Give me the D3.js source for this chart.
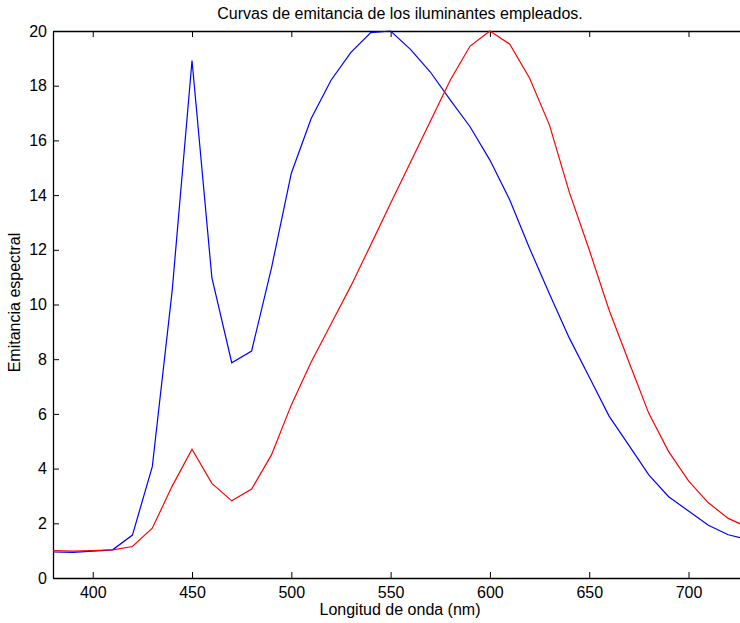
<!DOCTYPE html>
<html><head><meta charset="utf-8">
<script src="https://cdn.jsdelivr.net/npm/d3@7"></script>
<style>body{margin:0;background:#fff}svg{display:block}</style>
</head><body>
<svg id="c" width="740" height="623"></svg>
<script>
const wavelengths = [380,390,400,410,420,430,440,450,460,470,480,490,500,510,520,530,540,550,560,570,580,590,600,610,620,630,640,650,660,670,680,690,700,710,720,730];
const blueSeries = [0.95,0.94,0.98,1.03,1.57,4.07,10.5,18.92,10.98,7.87,8.3,11.33,14.8,16.8,18.2,19.22,19.94,20.0,19.33,18.5,17.48,16.5,15.28,13.82,12.05,10.38,8.77,7.35,5.92,4.85,3.77,2.97,2.45,1.93,1.58,1.4];
const redSeries = [1.0,0.98,1.0,1.03,1.15,1.82,3.36,4.71,3.46,2.82,3.25,4.5,6.33,7.9,9.29,10.68,12.18,13.7,15.2,16.7,18.2,19.45,20.0,19.52,18.27,16.56,14.1,12.0,9.8,7.9,6.02,4.62,3.55,2.75,2.18,1.85];
const xTicks = [400,450,500,550,600,650,700];
const yTicks = [0,2,4,6,8,10,12,14,16,18,20];
const titleText = "Curvas de emitancia de los iluminantes empleados.";
const xLabel = "Longitud de onda (nm)";
const yLabel = "Emitancia espectral";

const svg = d3.select("#c");
const L = 53, T = 31, B = 578, R = 53 + 350*1.986;
const x = d3.scaleLinear().domain([380,730]).range([L,R]);
const y = d3.scaleLinear().domain([0,20]).range([B,T]);
const font = "'Liberation Sans', Arial, Helvetica, sans-serif";

const g = svg.append("g");
const xa = g.append("g").attr("transform",`translate(0,${B})`)
  .call(d3.axisBottom(x).tickValues(xTicks).tickSizeInner(-6).tickSizeOuter(0).tickPadding(9).tickFormat(d3.format("d")));
const xt = g.append("g").attr("transform",`translate(0,${T})`)
  .call(d3.axisTop(x).tickValues(xTicks).tickSizeInner(-6).tickSizeOuter(0).tickFormat(""));
const ya = g.append("g").attr("transform",`translate(${L},0)`)
  .call(d3.axisLeft(y).tickValues(yTicks).tickSizeInner(-6).tickSizeOuter(0).tickPadding(6).tickFormat(d3.format("d")));
[xa,xt,ya].forEach(a=>{
  a.selectAll("path.domain").attr("stroke","#000").attr("stroke-width",1.3);
  a.selectAll("line").attr("stroke","#000").attr("stroke-width",1);
  a.selectAll("text").attr("font-family",font).attr("font-size",16).attr("fill","#000");
});

const line = d3.line().x((d,i)=>x(wavelengths[i])).y(d=>y(d));
svg.append("clipPath").attr("id","cp").append("rect").attr("x",L).attr("y",T-2).attr("width",R-L).attr("height",B-T+2);
svg.append("path").datum(blueSeries).attr("d",line).attr("fill","none").attr("stroke","#0000ff").attr("stroke-width",1.2).attr("clip-path","url(#cp)");
svg.append("path").datum(redSeries).attr("d",line).attr("fill","none").attr("stroke","#ff0000").attr("stroke-width",1.2).attr("clip-path","url(#cp)");

svg.append("text").attr("x",400).attr("y",19).attr("text-anchor","middle")
  .attr("font-family",font).attr("font-size",16).text(titleText);
svg.append("text").attr("x",400).attr("y",615).attr("text-anchor","middle")
  .attr("font-family",font).attr("font-size",16).text(xLabel);
svg.append("text").attr("transform","translate(19.5,302.5) rotate(-90)").attr("text-anchor","middle")
  .attr("font-family",font).attr("font-size",16).text(yLabel);
</script>
</body></html>
